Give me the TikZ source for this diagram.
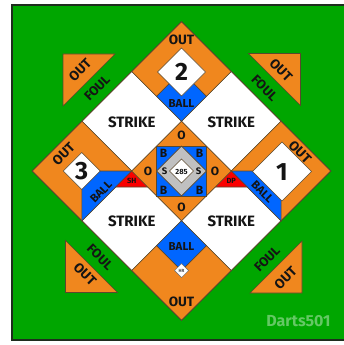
\documentclass[tikz,border=0pt]{standalone}
\usepackage{fontspec}
\setmainfont{Fira Sans}
\definecolor{fieldgreen}{RGB}{0,166,0}
\definecolor{orng}{RGB}{240,135,30}
\definecolor{bl}{RGB}{0,102,255}
\definecolor{redc}{RGB}{250,0,0}
\definecolor{grayc}{RGB}{192,192,192}
\definecolor{edgec}{RGB}{90,72,45}
\definecolor{borderc}{RGB}{30,45,30}
\definecolor{logoc}{RGB}{100,200,100}
\definecolor{inkc}{RGB}{20,20,20}
\newcommand{\bdD}[3]{(#1,#2-#3) -- (#1+#3,#2) -- (#1,#2+#3) -- (#1-#3,#2) -- cycle}
\tikzset{
  edge/.style={draw=edgec, line width=0.6pt},
  lbl/.style={inner sep=0pt, text=inkc},
  strikelbl/.style={lbl, font=\bfseries\fontsize{15}{15}\selectfont},
  outlbl/.style={lbl, font=\bfseries\fontsize{13.5}{13.5}\selectfont},
  foullbl/.style={lbl, font=\bfseries\fontsize{13}{13}\selectfont},
  balllbl/.style={lbl, font=\bfseries\fontsize{11.5}{11.5}\selectfont},
  baselbl/.style={lbl, font=\bfseries\fontsize{25}{25}\selectfont},
  ctrlbl/.style={lbl, font=\bfseries\fontsize{12}{12}\selectfont},
  slbl/.style={lbl, font=\bfseries\fontsize{9.5}{9.5}\selectfont},
  tinylbl/.style={lbl, font=\bfseries\fontsize{7.5}{7.5}\selectfont},
}
\begin{document}
\begin{tikzpicture}[x=1pt,y=-1pt]
\useasboundingbox (0,0) rectangle (344,345);
% field
\filldraw[fill=fieldgreen, draw=borderc, line width=1.5pt] (12,5) rectangle (352,340);
% foul triangles
\filldraw[fill=orng, edge] (63,54) -- (115,54) -- (63,106) -- cycle;
\filldraw[fill=orng, edge] (248.5,53.5) -- (300.5,53.5) -- (300.5,105.5) -- cycle;
\filldraw[fill=orng, edge] (65.5,240.5) -- (65.5,292.5) -- (117.5,292.5) -- cycle;
\filldraw[fill=orng, edge] (302,241) -- (302,293) -- (250,293) -- cycle;
\node[outlbl, rotate=45] (o1) at (80,70) {OUT};
\node[foullbl, rotate=45] (f1) at (97,88) {FOUL};
\node[outlbl, rotate=-45] (o2) at (281,70) {OUT};
\node[foullbl, rotate=-45] (f2) at (264.5,88) {FOUL};
\node[outlbl, rotate=-45] (o3) at (85,274) {OUT};
\node[foullbl, rotate=-45] (f3) at (100,257) {FOUL};
\node[outlbl, rotate=45] (o4) at (285.5,278) {OUT};
\node[foullbl, rotate=45] (f4) at (267,259) {FOUL};
% strike cells
\foreach \cx/\cy in {131.7/121.2, 231.3/121.2, 131.7/220.8, 231.3/220.8}
  \filldraw[fill=white, edge] \bdD{\cx}{\cy}{49.8};
\node[strikelbl] (s1) at (131.7,122) {STRIKE};
\node[strikelbl] (s2) at (231.3,122) {STRIKE};
\node[strikelbl] (s3) at (131.7,221.5) {STRIKE};
\node[strikelbl] (s4) at (231.3,221.5) {STRIKE};
% second base
\filldraw[fill=orng, edge] \bdD{181.5}{71.4}{49.8};
\filldraw[fill=bl, edge] \bdD{181.5}{96.3}{24.9};
\filldraw[fill=white, edge] \bdD{181.5}{72}{24};
\node[outlbl] (t2) at (181.5,40) {OUT};
\node[baselbl] (b2) at (181.5,72) {2};
\node[balllbl] (ba2) at (181.5,103.5) {BALL};
% third base
\filldraw[fill=orng, edge] \bdD{81.9}{171}{49.8};
\filldraw[fill=bl, edge] (81.9,171) -- (131.7,171) -- (81.9,220.8) -- cycle;
\filldraw[fill=white, edge] \bdD{81.7}{171}{18.5};
\node[outlbl, rotate=45] (t3) at (63.5,154) {OUT};
\node[baselbl] (b3) at (81.7,171) {3};
\node[balllbl, rotate=45] (ba3) at (101,192) {BALL};
% first base
\filldraw[fill=orng, edge] \bdD{281.1}{171}{49.8};
\filldraw[fill=bl, edge] (281.1,171) -- (231.3,171) -- (281.1,220.8) -- cycle;
\filldraw[fill=white, edge] \bdD{282}{171.5}{29.5};
\node[outlbl, rotate=-45] (t1) at (300,152) {OUT};
\node[baselbl] (b1) at (282,172) {1};
\node[balllbl, rotate=-45] (ba1) at (262.5,192) {BALL};
% home
\filldraw[fill=orng, edge] \bdD{181.5}{270.6}{49.8};
\filldraw[fill=bl, edge] \bdD{181.5}{245.7}{24.9};
\filldraw[fill=white, draw=black!60, line width=0.5pt] \bdD{181.5}{270.6}{7};
\node[lbl, font=\bfseries\fontsize{4.5}{4.5}\selectfont, text=black!70] (hr) at (181.5,270.8) {HR};
\node[balllbl] (bah) at (181.5,246.5) {BALL};
\node[outlbl] (th) at (181.5,302) {OUT};
% sacrifice / double play
\filldraw[fill=redc, edge] (131.7,171) -- (147.7,187) -- (115.7,187) -- cycle;
\filldraw[fill=redc, edge] (231.3,171) -- (247.3,187) -- (215.3,187) -- cycle;
\node[tinylbl] (sh) at (131.7,181) {SH};
\node[tinylbl] (dp) at (231.3,181) {DP};
% centre
\filldraw[fill=orng, edge] \bdD{181.5}{171}{49.8};
\filldraw[fill=bl, edge] (156.6,146.1) rectangle (206.4,195.9);
\filldraw[fill=grayc, edge] \bdD{181.5}{171}{24.9};
\filldraw[fill=white, edge] \bdD{181.5}{171}{12};
\node[ctrlbl] (c1) at (181.5,135.5) {O};
\node[ctrlbl] (c2) at (148,171) {O};
\node[ctrlbl] (c3) at (215,171) {O};
\node[ctrlbl] (c4) at (181.5,207) {O};
\node[ctrlbl] (cb1) at (163.5,153) {B};
\node[ctrlbl] (cb2) at (199.5,153) {B};
\node[ctrlbl] (cb3) at (163.5,190) {B};
\node[ctrlbl] (cb4) at (199.5,190) {B};
\node[slbl] (cs1) at (164.5,171.5) {S};
\node[slbl] (cs2) at (198.5,171.5) {S};
\node[tinylbl] (n285) at (181.5,171.5) {285};
% outline of the diamond
\draw[edge] \bdD{181.5}{171}{149.4};
% logo
\node[lbl, text=logoc, font=\bfseries\fontsize{16}{16}\selectfont] (logo) at (298.5,321) {Darts501};
\end{tikzpicture}
\end{document}
